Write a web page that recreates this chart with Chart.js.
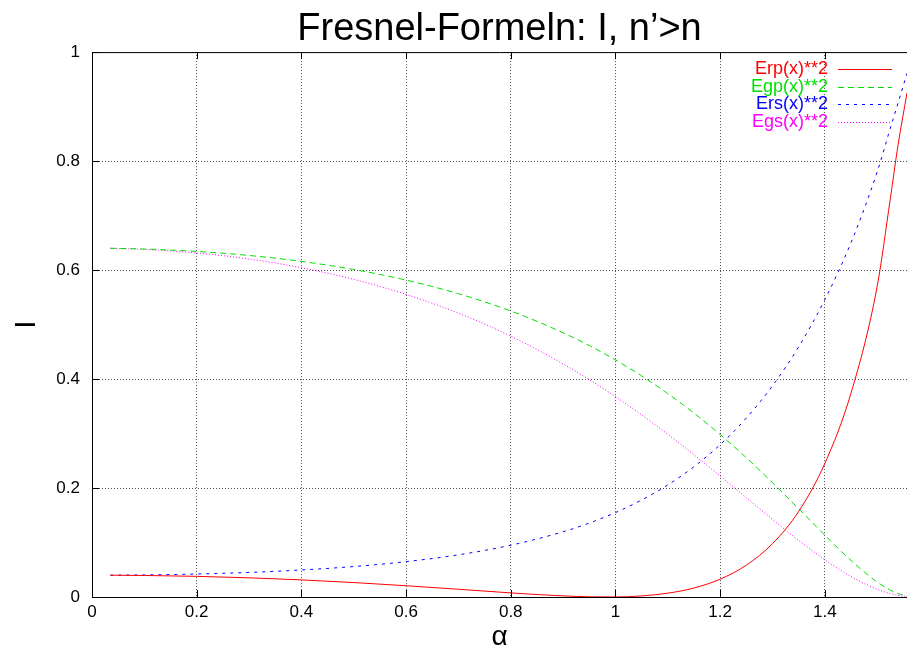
<!DOCTYPE html>
<html>
<head>
<meta charset="utf-8">
<script src="https://cdn.jsdelivr.net/npm/chart.js@4"></script>
<style>
  body { margin: 0; background: #fff; }
  #wrap { width: 907px; height: 655px; }
</style>
</head>
<body>
<div id="wrap"><canvas id="fresnelChart"></canvas></div>
<script>
// angle of incidence (rad) and squared amplitude coefficients
const alpha = [0.035, 0.1, 0.2, 0.3, 0.4, 0.5, 0.6, 0.7, 0.8, 0.9, 0.95, 1.0, 1.05, 1.1, 1.15, 1.2, 1.25, 1.3, 1.35, 1.4, 1.45, 1.5, 1.525, 1.54, 1.557];
const erp = [0.040, 0.0395, 0.0379, 0.0352, 0.0314, 0.0265, 0.0207, 0.0142, 0.0075, 0.0020, 0.0004, 0.0001, 0.0020, 0.0070, 0.0165, 0.0327, 0.0584, 0.0978, 0.157, 0.245, 0.374, 0.570, 0.73, 0.83, 0.925];
const egp = [0.640, 0.6386, 0.6342, 0.6268, 0.6159, 0.6011, 0.5816, 0.5566, 0.5249, 0.4850, 0.4614, 0.4351, 0.4058, 0.3733, 0.3375, 0.2982, 0.2556, 0.2099, 0.1621, 0.1135, 0.0671, 0.0275, 0.0126, 0.006, 0.002];
const ers = [0.040, 0.0405, 0.0422, 0.0451, 0.0496, 0.0559, 0.0649, 0.0774, 0.0950, 0.1197, 0.1357, 0.1549, 0.1780, 0.2057, 0.2391, 0.2795, 0.3284, 0.3875, 0.4591, 0.5457, 0.6503, 0.78, 0.86, 0.907, 0.961];
const egs = [0.640, 0.6379, 0.6314, 0.6203, 0.6043, 0.5829, 0.5554, 0.5209, 0.4787, 0.4278, 0.3989, 0.3677, 0.3342, 0.2986, 0.2611, 0.2221, 0.1823, 0.1425, 0.1040, 0.0683, 0.0375, 0.0141, 0.0062, 0.0029, 0.001];

const seriesNames = ['Erp(x)**2', 'Egp(x)**2', 'Ers(x)**2', 'Egs(x)**2'];
const xTicks = [0, 0.2, 0.4, 0.6, 0.8, 1, 1.2, 1.4];
const yTicks = [0, 0.2, 0.4, 0.6, 0.8, 1];

const colors = ['#ff0000', '#00e000', '#0000ff', '#ff00ff'];
const dashes = [[], [6, 4], [3, 5], [1, 2]];

Chart.defaults.font.family = "'Liberation Sans', Arial, sans-serif";
Chart.defaults.color = '#000';

const toPoints = ys => alpha.map((x, i) => ({ x: x, y: ys[i] }));

const datasets = [erp, egp, ers, egs].map((ys, i) => ({
    label: seriesNames[i],
    data: toPoints(ys),
    borderColor: colors[i],
    borderWidth: 1,
    borderDash: dashes[i],
    pointRadius: 0,
    cubicInterpolationMode: 'monotone',
    fill: false
}));

// gnuplot style frame: top line, inward tick marks, legend at top right
const framePlugin = {
    id: 'frame',
    afterDatasetsDraw(chart) {
        const { ctx, chartArea: a, scales: { x, y } } = chart;
        ctx.save();
        ctx.strokeStyle = '#000';
        ctx.lineWidth = 1;
        ctx.setLineDash([]);
        ctx.beginPath();
        ctx.moveTo(a.left, a.top + 0.5);
        ctx.lineTo(a.right, a.top + 0.5);
        xTicks.forEach(v => {
            const px = Math.round(x.getPixelForValue(v)) + 0.5;
            ctx.moveTo(px, a.bottom);
            ctx.lineTo(px, a.bottom - 7);
            ctx.moveTo(px, a.top);
            ctx.lineTo(px, a.top + 7);
        });
        yTicks.forEach(v => {
            const py = Math.round(y.getPixelForValue(v)) + 0.5;
            ctx.moveTo(a.left, py);
            ctx.lineTo(a.left + 7, py);
        });
        ctx.stroke();

        ctx.font = "18px 'Liberation Sans', Arial, sans-serif";
        ctx.textAlign = 'right';
        ctx.textBaseline = 'middle';
        seriesNames.forEach((name, i) => {
            const ly = 69 + i * 17.7;
            ctx.fillStyle = colors[i];
            ctx.fillText(name, 828, ly);
            ctx.strokeStyle = colors[i];
            ctx.setLineDash(dashes[i]);
            ctx.beginPath();
            ctx.moveTo(838, Math.round(ly) + 0.5);
            ctx.lineTo(892, Math.round(ly) + 0.5);
            ctx.stroke();
        });
        ctx.restore();
    }
};

new Chart(document.getElementById('fresnelChart'), {
    type: 'line',
    data: { datasets: datasets },
    plugins: [framePlugin],
    options: {
        responsive: true,
        maintainAspectRatio: false,
        animation: false,
        layout: { padding: 0 },
        plugins: {
            legend: { display: false },
            tooltip: { enabled: false },
            title: {
                display: true,
                text: 'Fresnel-Formeln: I, n\u2019>n',
                fullSize: false,
                font: { size: 38, weight: 'normal', lineHeight: 1.2 },
                padding: { top: 6.5, bottom: 0 },
                color: '#000'
            }
        },
        scales: {
            x: {
                type: 'linear',
                min: 0,
                max: 1.557,
                afterBuildTicks: s => { s.ticks = xTicks.map(v => ({ value: v })); },
                afterFit: s => { s.height = 58; },
                ticks: {
                    font: { size: 17 },
                    padding: 5,
                    maxRotation: 0,
                    callback: v => String(v)
                },
                grid: { color: 'rgba(0,0,0,0.7)', drawTicks: false, lineWidth: 1 },
                border: { color: '#000', width: 1, dash: [1, 2] },
                title: {
                    display: true,
                    text: '\u03b1',
                    font: { size: 28, lineHeight: 1.2 },
                    padding: { top: 0, bottom: 1 }
                }
            },
            y: {
                type: 'linear',
                min: 0,
                max: 1,
                afterBuildTicks: s => { s.ticks = yTicks.map(v => ({ value: v })); },
                afterFit: s => { s.width = 92; },
                ticks: {
                    font: { size: 17 },
                    padding: 12,
                    callback: v => String(v)
                },
                grid: { color: 'rgba(0,0,0,0.7)', drawTicks: false, lineWidth: 1 },
                border: { color: '#000', width: 1, dash: [1, 2] },
                title: {
                    display: true,
                    text: 'I',
                    font: { size: 30, lineHeight: 1.2 },
                    padding: { top: 9, bottom: 0 }
                }
            }
        }
    }
});
</script>
</body>
</html>
